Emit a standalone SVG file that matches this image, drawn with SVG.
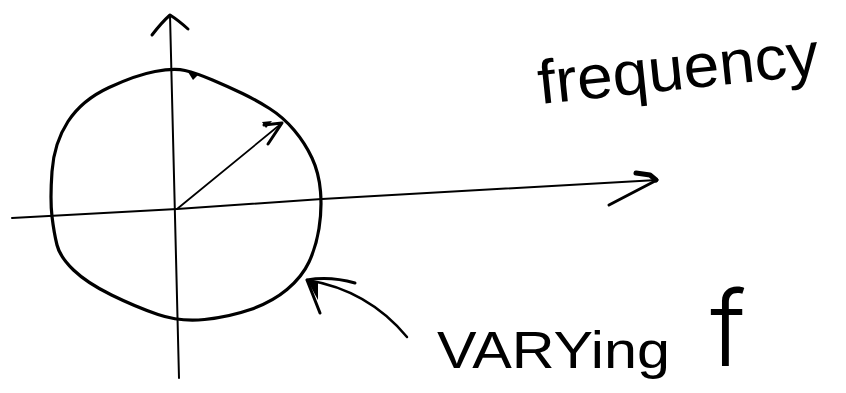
<svg xmlns="http://www.w3.org/2000/svg" width="846" height="393" viewBox="0 0 846 393">
<style>
.ln{fill:none;stroke:#000;stroke-linecap:round;stroke-linejoin:round}
.ax{stroke-width:2}
.hw{font-family:"Liberation Sans",Arial,sans-serif;fill:#000}
.thin{font-family:Inter,"DejaVu Sans",sans-serif;font-weight:300;fill:#000}
</style>
<rect width="846" height="393" fill="#fff"/>
<g id="connectors">
<g id="y-axis">
<path class="ln ax" d="M179,378 Q175,200 170,15"/>
<path class="ln" stroke-width="3" d="M152,35 Q162,22 170,15 Q178,20 188,29"/>
</g>
<g id="x-axis">
<path class="ln ax" d="M12,218 L177,209 L322,199 L657,180"/>
<path class="ln" stroke-width="3" d="M609,205 L657,180"/>
<path class="ln" stroke-width="5" d="M636,173 L650,175 L656,180"/>
</g>
<g id="radius">
<path class="ln" stroke-width="1.8" d="M177,209 L282,123"/>
<path class="ln" stroke-width="3" d="M264,125 L282,123 L268,144"/>
<path d="M262,122 L272,121 L266,128 Z" fill="#000"/>
</g>
<g id="pointer">
<path class="ln" stroke-width="2.5" d="M407,337 Q368,290 307,280"/>
<path class="ln" stroke-width="3" d="M320,313 L307,280 Q330,276 355,283"/>
<path d="M307,280 L318,282 L318,300 Z" fill="#000"/>
</g>
</g>
<g id="circle">
<path class="ln" stroke-width="3.2" d="M185,70.5 Q196,73 212.5,80 Q229,87 242.5,93.5 Q256,100 269.5,108.5 Q283,117 294,130 Q305,143 312,158 Q319,173 320.5,191.5 Q322,210 319,228.5 Q316,247 309,262 Q302,277 287,289.5 Q272,302 250.5,309.5 Q229,317 204.5,319.5 Q180,322 158,314.5 Q136,307 111.5,295 Q87,283 73.5,270 Q60,257 57,245 Q54,233 52,216.5 Q50,200 52,171.5 Q54,143 68,121.5 Q82,100 109,87.5 Q136,75 155,71.5 Q174,68 185,70.5 Z"/>
<path d="M188,72 L198,75 L193,80 Z" fill="#000"/>
</g>
<g id="label-frequency">
<text class="hw" x="540" y="104" font-size="62" textLength="282" lengthAdjust="spacingAndGlyphs" transform="rotate(-6 540 104)">frequency</text>
</g>
<g id="label-varying">
<text class="hw" x="437" y="368" font-size="52" textLength="233" lengthAdjust="spacingAndGlyphs">VARYing</text>
<text class="thin" x="710" y="366" font-size="104">f</text>
</g>
</svg>
